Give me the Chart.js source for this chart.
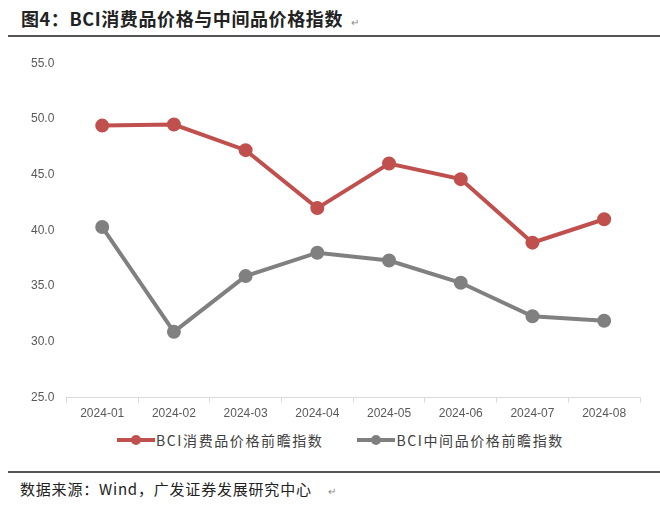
<!DOCTYPE html>
<html lang="zh">
<head>
    <meta charset="UTF-8">
    <title>BCI消费品价格与中间品价格指数</title>
    <script src="https://cdn.jsdelivr.net/npm/chart.js@4.4.1/dist/chart.umd.min.js"></script>
    <style>
        body {
            margin: 0;
            width: 660px;
            height: 509px;
            background: #fff;
            position: relative;
            overflow: hidden;
            font-family: "Noto Sans CJK SC", "Liberation Sans", sans-serif;
        }
        .title {
            position: absolute;
            left: 21px;
            top: 5px;
            font-size: 18px;
            font-weight: bold;
            color: #222;
            letter-spacing: 0.6px;
        }
        .mark {
            font-size: 10px;
            font-weight: normal;
            color: #888;
            margin-left: 8px;
        }
        .rule {
            position: absolute;
            left: 8px;
            right: 0;
            height: 2px;
            background: #555;
        }
        .source {
            position: absolute;
            left: 20px;
            top: 478px;
            font-size: 15px;
            letter-spacing: 0.8px;
            color: #222;
        }
        .chart-box {
            position: absolute;
            left: 0;
            top: 44px;
            width: 660px;
            height: 381px;
        }
        .legend {
            position: absolute;
            top: 430px;
            left: 117px;
            display: flex;
            font-size: 14px;
            letter-spacing: 1.6px;
            color: #404040;
            line-height: 20px;
        }
        .legend .item {
            display: flex;
            align-items: center;
            margin-right: 34px;
        }
        .legend canvas { margin-right: 1px; }
    </style>
</head>
<body>
    <div class="title">图4：BCI消费品价格与中间品价格指数<span class="mark">↵</span></div>
    <div class="rule" style="top:35px"></div>
    <div class="chart-box"><canvas id="chart"></canvas></div>
    <div class="legend" id="legend"></div>
    <div class="rule" style="top:471px"></div>
    <div class="source">数据来源：Wind，广发证券发展研究中心<span class="mark" style="margin-left:16px">↵</span></div>

    <script>
        const months = ['2024-01', '2024-02', '2024-03', '2024-04', '2024-05', '2024-06', '2024-07', '2024-08'];
        const consumerIndex = [49.4, 49.5, 47.2, 42.0, 46.0, 44.6, 38.9, 41.0];
        const intermediateIndex = [40.3, 30.9, 35.9, 38.0, 37.3, 35.3, 32.3, 31.9];

        const RED = '#c0504d';
        const GREY = '#808080';

        // small line-with-dot image for the legend
        function legendIcon(color) {
            const c = document.createElement('canvas');
            c.width = 38;
            c.height = 12;
            const ctx = c.getContext('2d');
            ctx.strokeStyle = color;
            ctx.lineWidth = 4;
            ctx.beginPath();
            ctx.moveTo(0, 6);
            ctx.lineTo(38, 6);
            ctx.stroke();
            ctx.fillStyle = color;
            ctx.beginPath();
            ctx.arc(19, 6, 5, 0, Math.PI * 2);
            ctx.fill();
            return c;
        }

        const chart = new Chart(document.getElementById('chart'), {
            type: 'line',
            data: {
                labels: months,
                datasets: [
                    {
                        label: 'BCI消费品价格前瞻指数',
                        data: consumerIndex,
                        borderColor: RED,
                        backgroundColor: RED,
                        borderWidth: 4,
                        pointRadius: 5,
                        tension: 0
                    },
                    {
                        label: 'BCI中间品价格前瞻指数',
                        data: intermediateIndex,
                        borderColor: GREY,
                        backgroundColor: GREY,
                        borderWidth: 4,
                        pointRadius: 5,
                        tension: 0
                    }
                ]
            },
            options: {
                responsive: true,
                maintainAspectRatio: false,
                animation: false,
                layout: { padding: { left: 19, right: 20, top: 12, bottom: 0 } },
                scales: {
                    x: {
                        offset: true,
                        grid: {
                            display: true,
                            drawOnChartArea: false,
                            drawTicks: true,
                            tickLength: 5,
                            color: '#d9d9d9',
                            offset: true
                        },
                        border: { color: '#d9d9d9', width: 1 },
                        ticks: {
                            color: '#595959',
                            font: { family: 'Liberation Sans', size: 12 },
                            padding: 4,
                            maxRotation: 0
                        }
                    },
                    y: {
                        min: 25,
                        max: 55,
                        grid: { display: false, drawTicks: false },
                        border: { display: false },
                        ticks: {
                            stepSize: 5,
                            color: '#595959',
                            padding: 12,
                            font: { family: 'Liberation Sans', size: 12 },
                            callback: v => v.toFixed(1)
                        }
                    }
                },
                plugins: {
                    tooltip: { enabled: false },
                    legend: { display: false }
                }
            }
        });

        // html legend built from the datasets
        const legendEl = document.getElementById('legend');
        chart.data.datasets.forEach(ds => {
            const item = document.createElement('div');
            item.className = 'item';
            item.appendChild(legendIcon(ds.borderColor));
            const span = document.createElement('span');
            span.textContent = ds.label;
            item.appendChild(span);
            legendEl.appendChild(item);
        });
    </script>
</body>
</html>
